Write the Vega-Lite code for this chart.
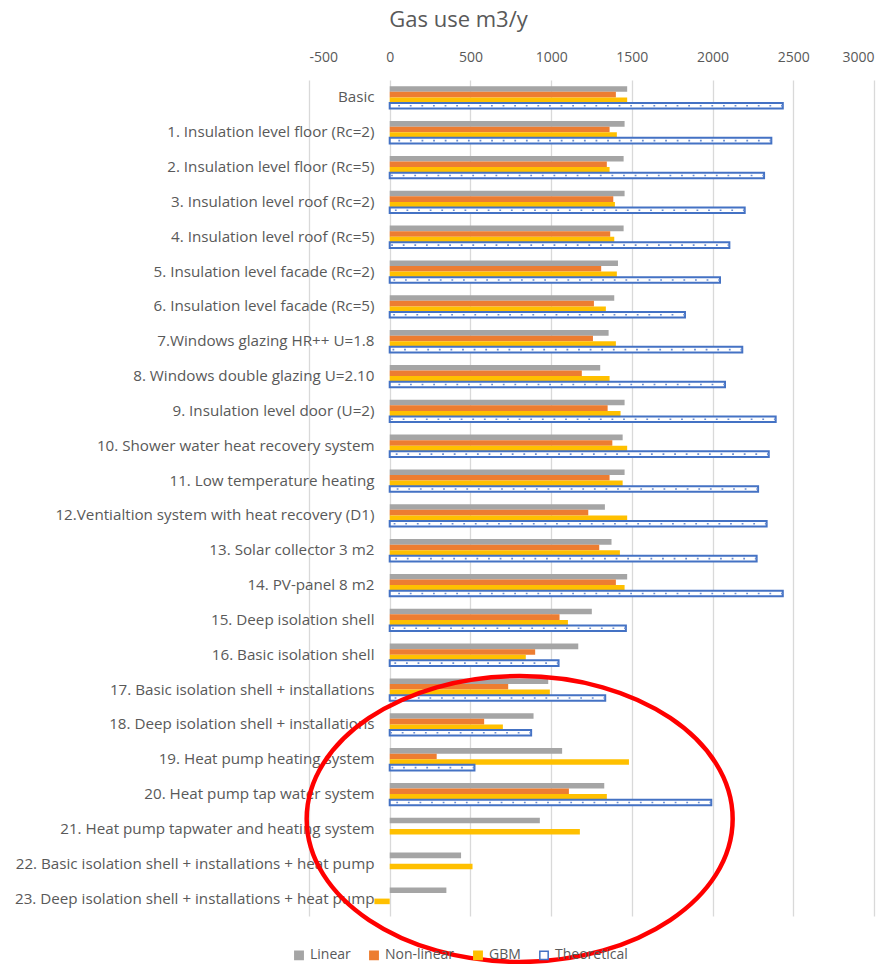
{
  "$schema": "https://vega.github.io/schema/vega-lite/v6.json",
  "autosize": {"type": "none"},
  "padding": {"left": 309, "top": 80, "right": 21, "bottom": 48},
  "width": 565,
  "height": 836,
  "background": "#FFFFFF",
  "title": {
    "text": "Gas use m3/y",
    "fontSize": 22,
    "fontWeight": "normal",
    "color": "#595959",
    "anchor": "middle",
    "dx": -133,
    "offset": 18
  },
  "data": {
    "values": [
      {"c": "Basic", "Linear": 1471, "Non-linear": 1401, "GBM": 1471, "Theoretical": 2435},
      {"c": "1. Insulation level floor (Rc=2)", "Linear": 1455, "Non-linear": 1362, "GBM": 1407, "Theoretical": 2364},
      {"c": "2. Insulation level floor (Rc=5)", "Linear": 1449, "Non-linear": 1345, "GBM": 1362, "Theoretical": 2319},
      {"c": "3. Insulation level roof (Rc=2)", "Linear": 1455, "Non-linear": 1385, "GBM": 1395, "Theoretical": 2199},
      {"c": "4. Insulation level roof (Rc=5)", "Linear": 1449, "Non-linear": 1366, "GBM": 1391, "Theoretical": 2104},
      {"c": "5. Insulation level facade (Rc=2)", "Linear": 1414, "Non-linear": 1310, "GBM": 1407, "Theoretical": 2046},
      {"c": "6. Insulation level facade (Rc=5)", "Linear": 1391, "Non-linear": 1265, "GBM": 1339, "Theoretical": 1829},
      {"c": "7.Windows glazing HR++ U=1.8", "Linear": 1356, "Non-linear": 1259, "GBM": 1401, "Theoretical": 2184},
      {"c": "8. Windows double glazing U=2.10", "Linear": 1304, "Non-linear": 1190, "GBM": 1362, "Theoretical": 2077},
      {"c": "9. Insulation level door (U=2)", "Linear": 1455, "Non-linear": 1350, "GBM": 1430, "Theoretical": 2391},
      {"c": "10. Shower water heat recovery system", "Linear": 1443, "Non-linear": 1379, "GBM": 1471, "Theoretical": 2348},
      {"c": "11. Low temperature heating", "Linear": 1455, "Non-linear": 1362, "GBM": 1443, "Theoretical": 2282},
      {"c": "12.Ventialtion system with heat recovery (D1)", "Linear": 1333, "Non-linear": 1230, "GBM": 1471, "Theoretical": 2335},
      {"c": "13. Solar collector 3 m2", "Linear": 1374, "Non-linear": 1298, "GBM": 1426, "Theoretical": 2273},
      {"c": "14. PV-panel 8 m2", "Linear": 1471, "Non-linear": 1401, "GBM": 1455, "Theoretical": 2435},
      {"c": "15. Deep isolation shell", "Linear": 1252, "Non-linear": 1052, "GBM": 1104, "Theoretical": 1463},
      {"c": "16. Basic isolation shell", "Linear": 1168, "Non-linear": 901, "GBM": 843, "Theoretical": 1046},
      {"c": "17. Basic isolation shell + installations", "Linear": 982, "Non-linear": 734, "GBM": 992, "Theoretical": 1335},
      {"c": "18. Deep isolation shell + installations", "Linear": 891, "Non-linear": 585, "GBM": 701, "Theoretical": 876},
      {"c": "19. Heat pump heating system", "Linear": 1068, "Non-linear": 291, "GBM": 1482, "Theoretical": 525},
      {"c": "20. Heat pump tap water system", "Linear": 1329, "Non-linear": 1110, "GBM": 1345, "Theoretical": 1992},
      {"c": "21. Heat pump tapwater and heating system", "Linear": 930, "GBM": 1178},
      {"c": "22. Basic isolation shell + installations + heat pump", "Linear": 442, "GBM": 513},
      {"c": "23. Deep isolation shell + installations + heat pump", "Linear": 351, "GBM": -95}
    ]
  },
  "transform": [
    {"fold": ["Linear", "Non-linear", "GBM", "Theoretical"], "as": ["series", "value"]},
    {"filter": "isValid(datum.value)"}
  ],
  "layer": [
    {
      "mark": {"type": "bar"},
      "encoding": {
        "y": {
          "field": "c",
          "type": "nominal",
          "scale": {
            "domain": [
              "Basic",
              "1. Insulation level floor (Rc=2)",
              "2. Insulation level floor (Rc=5)",
              "3. Insulation level roof (Rc=2)",
              "4. Insulation level roof (Rc=5)",
              "5. Insulation level facade (Rc=2)",
              "6. Insulation level facade (Rc=5)",
              "7.Windows glazing HR++ U=1.8",
              "8. Windows double glazing U=2.10",
              "9. Insulation level door (U=2)",
              "10. Shower water heat recovery system",
              "11. Low temperature heating",
              "12.Ventialtion system with heat recovery (D1)",
              "13. Solar collector 3 m2",
              "14. PV-panel 8 m2",
              "15. Deep isolation shell",
              "16. Basic isolation shell",
              "17. Basic isolation shell + installations",
              "18. Deep isolation shell + installations",
              "19. Heat pump heating system",
              "20. Heat pump tap water system",
              "21. Heat pump tapwater and heating system",
              "22. Basic isolation shell + installations + heat pump",
              "23. Deep isolation shell + installations + heat pump"
            ],
            "paddingInner": 0.357,
            "paddingOuter": 0.1785
          },
          "axis": {
            "title": null,
            "domain": false,
            "ticks": false,
            "tickSize": 0,
            "grid": false,
            "offset": -81,
            "labelPadding": 16,
            "labelFont": "Open Sans",
            "labelFontSize": 15.2,
            "labelColor": "#595959",
            "labelLimit": 600
          }
        },
        "yOffset": {
          "field": "series",
          "type": "nominal",
          "scale": {"domain": ["Linear", "Non-linear", "GBM", "Theoretical"], "paddingInner": 0, "paddingOuter": 0}
        },
        "x": {
          "field": "value",
          "type": "quantitative",
          "scale": {"domain": [-500, 3000], "nice": false, "zero": false},
          "axis": {
            "orient": "top",
            "title": null,
            "values": [-500, 0, 500, 1000, 1500, 2000, 2500, 3000],
            "labelExpr": "'' + datum.value",
            "domain": false,
            "ticks": false,
            "tickSize": 0,
            "labelPadding": 16,
            "labelFont": "Open Sans",
            "labelFontSize": 14,
            "labelColor": "#595959",
            "grid": true,
            "gridColor": "#D9D9D9",
            "gridWidth": 1.3
          }
        },
        "fill": {
          "field": "series",
          "type": "nominal",
          "scale": {
            "domain": ["Linear", "Non-linear", "GBM", "Theoretical"],
            "range": ["#A5A5A5", "#ED7D31", "#FFC000", "#FFFFFF"]
          },
          "legend": {"title": null}
        },
        "stroke": {
          "field": "series",
          "type": "nominal",
          "scale": {
            "domain": ["Linear", "Non-linear", "GBM", "Theoretical"],
            "range": ["#A5A5A5", "#ED7D31", "#FFC000", "#4472C4"]
          },
          "legend": {"title": null}
        },
        "strokeWidth": {
          "condition": {"test": "datum.series === 'Theoretical'", "value": 2},
          "value": 0
        }
      }
    },
    {
      "transform": [{"filter": "datum.series === 'Theoretical'"}],
      "mark": {"type": "rule", "strokeDash": [1.8, 9.8], "strokeWidth": 1.6, "color": "#6A8DD2"},
      "encoding": {
        "y": {"field": "c", "type": "nominal"},
        "yOffset": {"field": "series", "type": "nominal"},
        "x": {"field": "value", "type": "quantitative"},
        "x2": {"datum": 0}
      }
    },
    {
      "data": {"values": [{"c": "20. Heat pump tap water system", "value": 805}]},
      "mark": {
        "type": "point",
        "shape": "M 1 0.117 C 1 0.4876 0.5523 0.788 0 0.788 C -0.5523 0.788 -1 0.4876 -1 0.117 C -1 -0.2536 -0.5523 -0.554 0 -0.554 C 0.5523 -0.554 1 -0.2536 1 0.117 Z",
        "filled": false,
        "stroke": "#FF0000",
        "strokeWidth": 4.5,
        "opacity": 1,
        "size": 181476
      },
      "encoding": {
        "x": {"field": "value", "type": "quantitative"},
        "y": {"field": "c", "type": "nominal"}
      }
    }
  ],
  "config": {
    "font": "Open Sans",
    "view": {"stroke": null},
    "legend": {
      "orient": "none",
      "legendX": -17,
      "legendY": 868,
      "direction": "horizontal",
      "symbolType": "square",
      "symbolSize": 70,
      "symbolStrokeWidth": 1.5,
      "labelFont": "Open Sans",
      "labelFontSize": 14,
      "labelColor": "#595959",
      "labelOffset": 4,
      "columnPadding": 15,
      "padding": 0
    }
  }
}
